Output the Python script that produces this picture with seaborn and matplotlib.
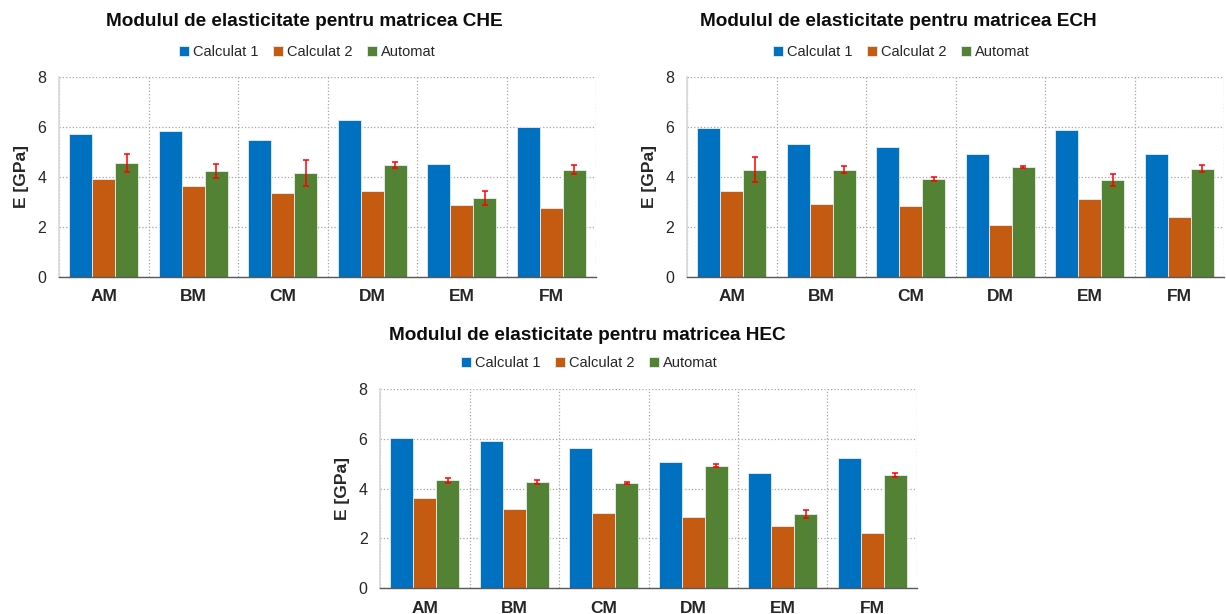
import pandas as pd
import seaborn as sns
import matplotlib.pyplot as plt
from matplotlib.ticker import MultipleLocator, FixedLocator

sns.set_theme(style="white")
plt.rcParams["font.family"] = ["Liberation Sans", "DejaVu Sans"]

## Data (E in GPa)
samples = ["AM", "BM", "CM", "DM", "EM", "FM"]
series = ["Calculat 1", "Calculat 2", "Automat"]

che_calc1 = [5.73, 5.85, 5.48, 6.27, 4.51, 6.01]
che_calc2 = [3.91, 3.64, 3.36, 3.45, 2.86, 2.75]
che_auto = [4.55, 4.23, 4.15, 4.49, 3.14, 4.29]
che_err = [0.37, 0.28, 0.51, 0.12, 0.28, 0.18]

ech_calc1 = [5.94, 5.32, 5.20, 4.92, 5.89, 4.92]
ech_calc2 = [3.45, 2.93, 2.84, 2.07, 3.10, 2.41]
ech_auto = [4.28, 4.29, 3.91, 4.39, 3.87, 4.33]
ech_err = [0.50, 0.15, 0.08, 0.05, 0.23, 0.13]

hec_calc1 = [6.03, 5.90, 5.63, 5.07, 4.61, 5.24]
hec_calc2 = [3.62, 3.18, 3.04, 2.88, 2.49, 2.20]
hec_auto = [4.33, 4.25, 4.22, 4.92, 2.99, 4.53]
hec_err = [0.09, 0.08, 0.04, 0.05, 0.17, 0.08]

palette = {"Calculat 1": "#0070C0", "Calculat 2": "#C55A11", "Automat": "#548235"}

W, H = 1226, 614
fig = plt.figure(figsize=(W / 100, H / 100), dpi=100)


def _long(c1, c2, auto):
    rows = []
    for name, vals in zip(series, [c1, c2, auto]):
        for s, v in zip(samples, vals):
            rows.append({"Proba": s, "Serie": name, "E": v})
    return pd.DataFrame(rows)


def draw_panel(rect, title, title_xy, legend_xy, c1, c2, auto, err):
    ax = fig.add_axes(rect)
    df = _long(c1, c2, auto)
    sns.barplot(
        data=df, x="Proba", y="E", hue="Serie",
        order=samples, hue_order=series, palette=palette,
        width=0.77, errorbar=None, saturation=1,
        edgecolor="#e8eef0", linewidth=0.6, ax=ax,
    )
    # error bars on the "Automat" bars
    cont = ax.containers[2]
    xs = [p.get_x() + p.get_width() / 2 for p in cont]
    ax.errorbar(xs, auto, yerr=err, fmt="none", ecolor="#FF0000",
                elinewidth=1.1, capsize=2.5, capthick=1.1, zorder=5)

    ax.set_xlim(-0.5, len(samples) - 0.5)
    ax.set_ylim(0, 8)
    ax.yaxis.set_major_locator(MultipleLocator(2))
    ax.xaxis.set_minor_locator(FixedLocator([i - 0.5 for i in range(len(samples) + 1)]))
    ax.grid(axis="y", which="major", color="#a6a6a6", linestyle=":", linewidth=0.9)
    ax.grid(axis="x", which="minor", color="#a6a6a6", linestyle=":", linewidth=0.9)
    ax.set_axisbelow(True)
    for s in ["top", "right"]:
        ax.spines[s].set_visible(False)
    ax.spines["left"].set_color("#d9d9d9")
    ax.spines["bottom"].set_color("#595959")
    ax.spines["bottom"].set_linewidth(1.0)

    ax.tick_params(axis="x", which="major", length=0, pad=9, labelsize=12.5)
    ax.tick_params(axis="x", which="minor", length=3, color="#595959", direction="out")
    ax.tick_params(axis="y", length=0, pad=9, labelsize=11.5, labelcolor="#262626")
    for lab in ax.get_xticklabels():
        lab.set_fontweight("bold")
    ax.set_xlabel("")
    ax.set_ylabel("E [GPa]", fontsize=12.5, fontweight="bold", labelpad=6)

    handles, labels = ax.get_legend_handles_labels()
    ax.legend_.remove()
    fig.legend(handles, labels, loc="center", bbox_to_anchor=legend_xy,
               bbox_transform=fig.transFigure, ncol=3, frameon=False,
               fontsize=10.5, handlelength=0.7, handleheight=0.7,
               handletextpad=0.25, columnspacing=1.0)
    fig.text(title_xy[0], title_xy[1], title, ha="center", va="center",
             fontsize=13.7, fontweight="bold", color="#0d0d0d")
    return ax


draw_panel([59 / W, 1 - 276.7 / H, 537 / W, 199.7 / H],
           "Modulul de elasticitate pentru matricea CHE",
           (304 / W, 1 - 22 / H), (307 / W, 1 - 52 / H),
           che_calc1, che_calc2, che_auto, che_err)
draw_panel([687 / W, 1 - 276.7 / H, 537 / W, 199.7 / H],
           "Modulul de elasticitate pentru matricea ECH",
           (898 / W, 1 - 22 / H), (901 / W, 1 - 52 / H),
           ech_calc1, ech_calc2, ech_auto, ech_err)
draw_panel([380 / W, 1 - 588.3 / H, 537 / W, 199.3 / H],
           "Modulul de elasticitate pentru matricea HEC",
           (587 / W, 1 - 336 / H), (589 / W, 1 - 363 / H),
           hec_calc1, hec_calc2, hec_auto, hec_err)

fig.savefig("out.png", dpi=100)
